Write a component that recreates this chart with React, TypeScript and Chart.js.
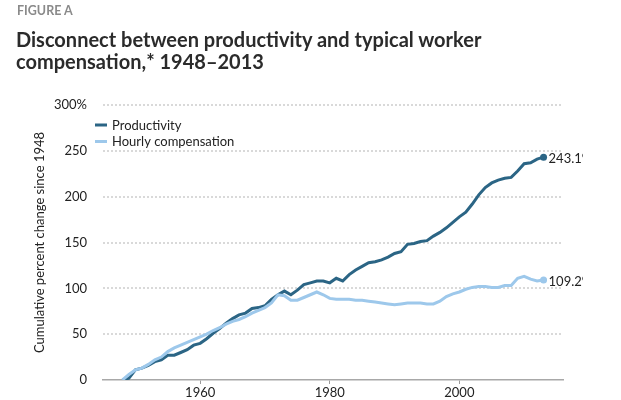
import React, { useEffect, useRef } from "react";
import { Chart, registerables } from "chart.js";

Chart.register(...registerables);

const years = [
  1948, 1949, 1950, 1951, 1952, 1953, 1954, 1955, 1956, 1957, 1958, 1959,
  1960, 1961, 1962, 1963, 1964, 1965, 1966, 1967, 1968, 1969, 1970, 1971,
  1972, 1973, 1974, 1975, 1976, 1977, 1978, 1979, 1980, 1981, 1982, 1983,
  1984, 1985, 1986, 1987, 1988, 1989, 1990, 1991, 1992, 1993, 1994, 1995,
  1996, 1997, 1998, 1999, 2000, 2001, 2002, 2003, 2004, 2005, 2006, 2007,
  2008, 2009, 2010, 2011, 2012, 2013,
];

const productivity = [
  0, 2, 11, 13, 16, 20, 22, 27, 27, 30, 33, 38,
  40, 45, 51, 56, 62, 67, 71, 73, 78, 79, 81, 88,
  93, 97, 93, 98, 104, 106, 108, 108, 106, 111, 108, 115,
  120, 124, 128, 129, 131, 134, 138, 140, 148, 149, 151, 152,
  157, 161, 166, 172, 178, 183, 192, 202, 210, 215, 218, 220,
  221, 228, 236, 237, 241, 243.1,
];

const hourlyCompensation = [
  0, 6, 11, 13, 17, 22, 25, 31, 35, 38, 41, 44,
  47, 50, 54, 57, 61, 64, 66, 69, 73, 76, 79, 84,
  93, 92, 87, 87, 90, 93, 96, 93, 89, 88, 88, 88,
  87, 87, 86, 85, 84, 83, 82, 83, 84, 84, 84, 83,
  83, 86, 91, 94, 96, 99, 101, 102, 102, 101, 101, 103,
  103, 111, 113, 110, 108, 109.2,
];

const seriesNames = ["Productivity", "Hourly compensation"];
const endLabels = ["243.1%", "109.2%"];
const yTicks = [0, 50, 100, 150, 200, 250, 300];
const xTicks = [1960, 1980, 2000];

const DARK = "#2b6585";
const LIGHT = "#9dc8eb";
const FONT = "Lato, 'Open Sans', sans-serif";
const TEXT = "#222222";

const gridPlugin = {
  id: "dottedGrid",
  beforeDatasetsDraw(chart: any) {
    const ctx = chart.ctx;
    const y = chart.scales.y;
    const { left, right } = chart.chartArea;
    ctx.save();
    ctx.strokeStyle = "#d9d9d9";
    ctx.lineWidth = 2;
    ctx.setLineDash([2, 2]);
    yTicks.forEach((v) => {
      if (v === 0) return;
      const py = Math.round(y.getPixelForValue(v));
      ctx.beginPath();
      ctx.moveTo(left, py);
      ctx.lineTo(right, py);
      ctx.stroke();
    });
    ctx.restore();
  },
};

const overlayPlugin = {
  id: "overlay",
  afterDatasetsDraw(chart: any) {
    const ctx = chart.ctx;
    ctx.save();
    const colors = [DARK, LIGHT];
    const ys = [125, 141.5];
    ctx.font = `13px ${FONT}`;
    ctx.textBaseline = "middle";
    ctx.textAlign = "left";
    seriesNames.forEach((name, i) => {
      ctx.strokeStyle = colors[i];
      ctx.lineWidth = 3;
      ctx.beginPath();
      ctx.moveTo(95, ys[i]);
      ctx.lineTo(107, ys[i]);
      ctx.stroke();
      ctx.fillStyle = TEXT;
      ctx.fillText(name, 112, ys[i] + 0.5);
    });
    ctx.beginPath();
    ctx.rect(0, 0, 583, 400);
    ctx.clip();
    chart.data.datasets.forEach((ds: any, i: number) => {
      const meta = chart.getDatasetMeta(i);
      const pt = meta.data[meta.data.length - 1];
      ctx.fillStyle = TEXT;
      ctx.fillText(endLabels[i], pt.x + 5, pt.y + 1.5);
    });
    ctx.restore();
  },
};

export default function App() {
  const ref = useRef<HTMLCanvasElement | null>(null);

  useEffect(() => {
    if (!ref.current) return;
    const last = years.length - 1;
    const radius = (ctx: any) => (ctx.dataIndex === last ? 3.5 : 0);
    const chart = new Chart(ref.current, {
      type: "line",
      data: {
        datasets: [
          {
            label: seriesNames[0],
            data: years.map((x, i) => ({ x, y: productivity[i] })),
            borderColor: DARK,
            backgroundColor: DARK,
            pointBackgroundColor: DARK,
            pointBorderWidth: 0,
            borderWidth: 3,
            pointRadius: radius,
            tension: 0,
            order: 2,
          },
          {
            label: seriesNames[1],
            data: years.map((x, i) => ({ x, y: hourlyCompensation[i] })),
            borderColor: LIGHT,
            backgroundColor: LIGHT,
            pointBackgroundColor: LIGHT,
            pointBorderWidth: 0,
            borderWidth: 3,
            pointRadius: radius,
            tension: 0,
            order: 1,
          },
        ],
      },
      options: {
        animation: false,
        responsive: false,
        maintainAspectRatio: false,
        layout: { padding: { left: 0, top: 105, right: 58, bottom: 0 } },
        plugins: {
          legend: { display: false },
          tooltip: { enabled: false },
          title: { display: false },
        },
        scales: {
          x: {
            type: "linear",
            min: 1945,
            max: 2016,
            afterBuildTicks: (s: any) => {
              s.ticks = xTicks.map((v) => ({ value: v }));
            },
            afterFit: (s: any) => {
              s.height = 20;
            },
            ticks: {
              font: { family: FONT, size: 13 },
              color: TEXT,
              padding: 1,
              maxRotation: 0,
              callback: (v: any) => String(v),
            },
            grid: {
              drawOnChartArea: false,
              drawTicks: true,
              tickLength: 4,
              tickColor: "#9a9a9a",
              tickWidth: 1,
            },
            border: { display: true, color: "#a8a8a8", width: 1.5 },
          },
          y: {
            min: 0,
            max: 300,
            afterBuildTicks: (s: any) => {
              s.ticks = yTicks.map((v) => ({ value: v }));
            },
            afterFit: (s: any) => {
              s.width = 103;
            },
            ticks: {
              font: { family: FONT, size: 13 },
              color: TEXT,
              padding: 0,
              callback: (v: any) => (v === 300 ? "300%" : String(v)),
            },
            grid: {
              display: true,
              drawOnChartArea: false,
              drawTicks: true,
              tickLength: 16,
              tickColor: "rgba(0,0,0,0)",
              color: "rgba(0,0,0,0)",
            },
            border: { display: false },
            title: {
              display: true,
              text: "Cumulative percent change since 1948",
              font: { family: FONT, size: 13 },
              color: TEXT,
              padding: { top: 32, bottom: 0 },
            },
          },
        },
      },
      plugins: [gridPlugin, overlayPlugin],
    });
    return () => chart.destroy();
  }, []);

  return (
    <div
      style={{
        position: "absolute",
        left: 0,
        top: 0,
        width: 621,
        height: 400,
        background: "#ffffff",
        overflow: "hidden",
      }}
    >
      <canvas
        ref={ref}
        width={621}
        height={400}
        style={{ position: "absolute", left: 0, top: 0, width: 621, height: 400 }}
      />
      <div
        style={{
          position: "absolute",
          left: 17,
          top: 3,
          fontFamily: FONT,
          fontSize: 12.5,
          fontWeight: 700,
          color: "#8a8a8a",
        }}
      >
        FIGURE A
      </div>
      <div
        style={{
          position: "absolute",
          left: 16,
          top: 28,
          width: 605,
          fontFamily: FONT,
          fontSize: 20,
          fontWeight: 700,
          lineHeight: "22px",
          color: "#2b2b2b",
          whiteSpace: "nowrap",
        }}
      >
        Disconnect between productivity and typical worker
        <br />
        compensation,* 1948–2013
      </div>
    </div>
  );
}
